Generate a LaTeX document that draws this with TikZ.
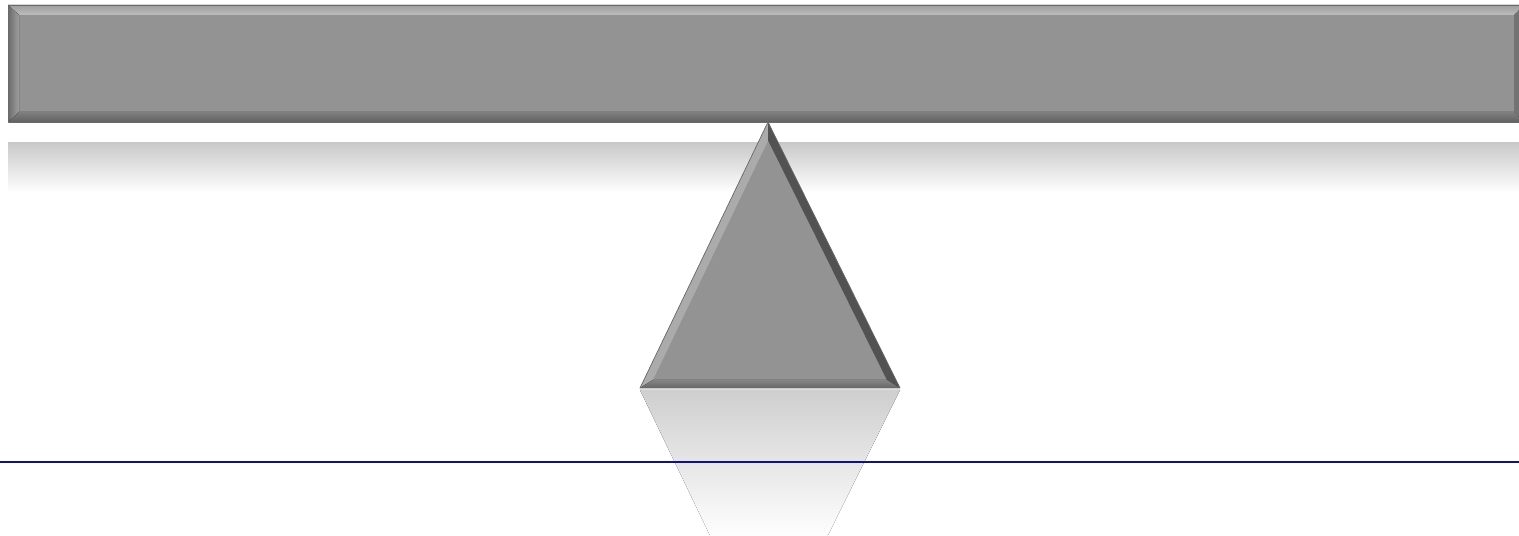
\documentclass[tikz,border=0pt]{standalone}
\usetikzlibrary{calc}
\definecolor{beamgray}{HTML}{939393}
\definecolor{edgegray}{HTML}{6A6A6A}
\definecolor{groundblue}{HTML}{10108C}

\begin{document}
\begin{tikzpicture}[
  x=0.02cm,y=-0.02cm,
  face/.style={fill=beamgray},
  lightface/.style={shade,top color=#1,bottom color=#1},
  reflect/.style={shade,top color=#1,bottom color=white},
  outline/.style={draw=edgegray,line width=0.4pt,line join=round},
  ground/.style={draw=groundblue,line width=1.2pt}
]
\useasboundingbox (0,0) rectangle (1519,536);

% reflections first
\fill[reflect=black!21] (8,143) rectangle (1519,193);
\coordinate (rb) at (640,390);
\coordinate (rc) at (900,390);
\coordinate (ra) at (768,656);
\begin{scope}
  \clip (0,390) rectangle (1519,536);
  \fill[reflect=black!19,bottom color=white] (rb) -- (rc) -- ($(rc)!0.56!(ra)$) -- ($(rb)!0.56!(ra)$) -- cycle;
\end{scope}

% the beam
\coordinate (o1) at (8,5);
\coordinate (o2) at (1525,5);
\coordinate (o3) at (1525,122);
\coordinate (o4) at (8,122);
\coordinate (i1) at (19,15);
\coordinate (i2) at (1514,15);
\coordinate (i3) at (1514,112);
\coordinate (i4) at (19,112);
\fill[face] (o1) rectangle (o3);
\fill[shade,top color=black!38,bottom color=black!26] (o1) -- (o2) -- (i2) -- (i1) -- cycle;
\fill[shade,top color=black!50,bottom color=black!62] (o4) -- (o3) -- (i3) -- (i4) -- cycle;
\fill[shade,left color=black!58,right color=black!38] (o1) -- (i1) -- (i4) -- (o4) -- cycle;
\fill[black!55] (o2) -- (o3) -- (i3) -- (i2) -- cycle;
\draw[outline] (o2) -- (o1) -- (o4) -- (o3);

% the fulcrum
\coordinate (ta) at (768,122);
\coordinate (tb) at (640,388);
\coordinate (tc) at (900,388);
\coordinate (ti) at (769,307);
\coordinate (ta') at ($(ti)!0.9!(ta)$);
\coordinate (tb') at ($(ti)!0.9!(tb)$);
\coordinate (tc') at ($(ti)!0.9!(tc)$);
\fill[face] (ta) -- (tb) -- (tc) -- cycle;
\fill[black!33] (ta) -- (tb) -- (tb') -- (ta') -- cycle;
\fill[black!68] (ta) -- (tc) -- (tc') -- (ta') -- cycle;
\fill[shade,top color=black!48,bottom color=black!60] (tb) -- (tc) -- (tc') -- (tb') -- cycle;
\draw[outline] (ta) -- (tb) -- (tc) -- cycle;

% ground line
\draw[ground] (0,462) -- (1519,462);
\end{tikzpicture}
\end{document}
